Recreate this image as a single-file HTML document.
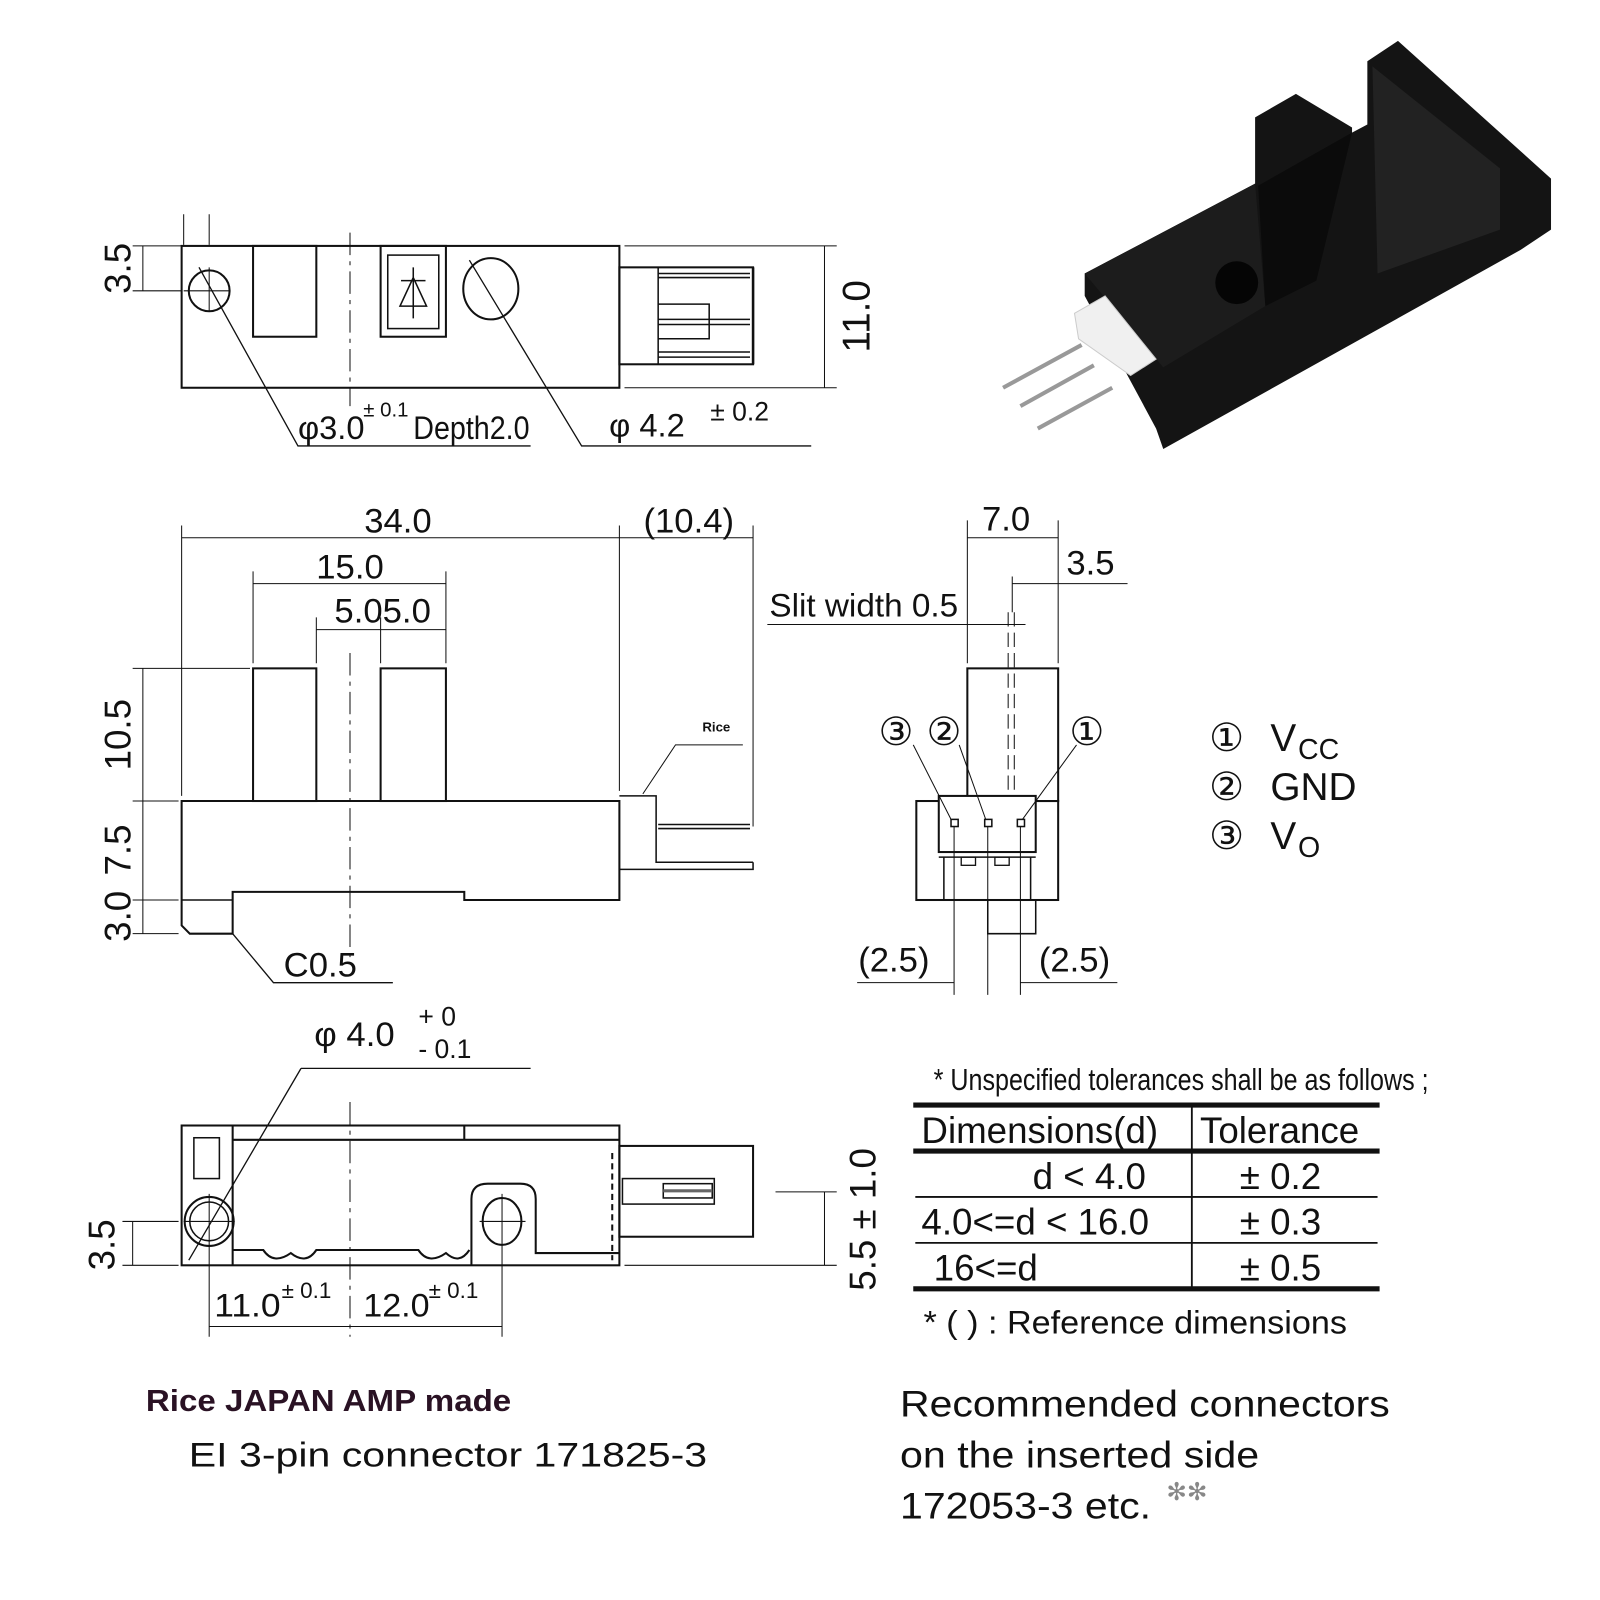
<!DOCTYPE html>
<html><head><meta charset="utf-8"><style>
html,body{margin:0;padding:0;background:#fff}
svg{display:block}
text{font-family:"Liberation Sans",sans-serif;fill:#111}
</style></head><body>
<svg width="1600" height="1600" viewBox="0 0 1568 1568" xmlns="http://www.w3.org/2000/svg">
<g fill="none" stroke="#111" stroke-width="2">
<!-- TOP VIEW -->
<rect x="178" y="241" width="429" height="139"/>
<rect x="248" y="241" width="62" height="89"/>
<rect x="373" y="241" width="64" height="89"/>
<rect x="380" y="250" width="50" height="72" stroke-width="1.5"/>
<path d="M393 275 H417 M405 262 V312 M392 300 L405 272 L418 300 Z M393 300 H417" stroke-width="1.5"/>
<circle cx="205" cy="285" r="20"/>
<ellipse cx="481" cy="283" rx="27" ry="30"/>
<path d="M180 285 H225 M205 262 V305" stroke-width="1"/>
<path d="M343 228 V398" stroke-width="1" stroke-dasharray="22 6 4 6"/>
<path d="M180 210 V240 M205 210 V240" stroke-width="1"/>
<rect x="607" y="262" width="131" height="95"/>
<path d="M645 262 V357" stroke-width="1.5"/>
<path d="M645 268 H735 M645 272 H735 M645 313 H735 M645 318 H735 M645 345 H735 M645 350 H735" stroke-width="1.5"/>
<path d="M645 298 H695 V332 H645" stroke-width="1.5"/>
<path d="M738 262 V357" stroke-width="2.5"/>
<path d="M612 241 H820 M612 380 H820 M808 241 V380" stroke-width="1"/>
<path d="M140 241 V285 M130 241 H178 M130 285 H178" stroke-width="1"/>
<path d="M195 262 L292 437 H520" stroke-width="1.3"/>
<path d="M460 255 L570 437 H795" stroke-width="1.3"/>
<!-- FRONT VIEW -->
<path d="M178 785 H607 V882 H455 V874 H228 V915 H186 L178 907 Z"/>
<path d="M178 882 H228" stroke-width="1.5"/>
<rect x="248" y="655" width="62" height="130"/>
<rect x="373" y="655" width="64" height="130"/>
<path d="M343 640 V940" stroke-width="1" stroke-dasharray="22 6 4 6"/>
<path d="M607 780 H643 V845 H738 M607 852 H738 V845" stroke-width="1.5"/>
<path d="M645 808 H735 M645 812 H735" stroke-width="1.5"/>
<path d="M178 515 V780 M607 515 V775 M738 515 V810 M248 560 V650 M437 560 V650 M310 605 V650 M373 605 V650" stroke-width="1"/>
<path d="M178 527 H738 M248 572 H437 M310 617 H437" stroke-width="1"/>
<path d="M130 655 H245 M130 785 H175 M130 882 H175 M130 915 H175 M140 655 V915" stroke-width="1"/>
<path d="M630 778 L662 730 H728" stroke-width="1"/>
<path d="M228 915 L268 963 H385" stroke-width="1.3"/>
<!-- SIDE VIEW -->
<rect x="948" y="655" width="89" height="130"/>
<rect x="898" y="785" width="139" height="97"/>
<rect x="920" y="780" width="95" height="55" fill="#fff"/>
<path d="M920 840 H1015 M925 840 V882 M1010 840 V882" stroke-width="1.5"/>
<rect x="942" y="840" width="14" height="8" stroke-width="1.3"/>
<rect x="975" y="840" width="14" height="8" stroke-width="1.3"/>
<path d="M968 882 V915 H1015 V882 M972 915 H1011" stroke-width="1.5"/>
<rect x="932" y="803" width="7" height="7" stroke-width="1.5"/>
<rect x="965" y="803" width="7" height="7" stroke-width="1.5"/>
<rect x="997" y="803" width="7" height="7" stroke-width="1.5"/>
<path d="M935 810 V975 M968 810 V975 M1000 810 V975" stroke-width="1"/>
<path d="M988 600 V780 M994 600 V780" stroke-width="1" stroke-dasharray="14 6"/>
<path d="M948 510 V650 M1037 510 V650 M948 527 H1037 M992 565 V600 M992 572 H1105 M752 612 H1005" stroke-width="1"/>
<path d="M895 730 L932 803 M940 730 L966 803 M1055 730 L1002 803" stroke-width="1"/>
<path d="M840 963 H935 M1000 963 H1095" stroke-width="1"/>
<!-- BOTTOM VIEW -->
<rect x="178" y="1103" width="429" height="137"/>
<path d="M228 1103 V1240 M228 1117 H607 M455 1103 V1117 M228 1225 H258 Q268 1240 285 1228 Q300 1240 310 1225 H410 Q420 1240 437 1228 Q450 1240 460 1225 M462 1240 V1175 Q462 1160 478 1160 H510 Q525 1160 525 1175 V1228 H607"/>
<rect x="190" y="1115" width="25" height="40" stroke-width="1.5"/>
<circle cx="205" cy="1197" r="24"/>
<circle cx="205" cy="1197" r="19" stroke-width="1.5"/>
<ellipse cx="492" cy="1197" rx="19" ry="23"/>
<path d="M343 1080 V1310" stroke-width="1" stroke-dasharray="22 6 4 6"/>
<path d="M205 1170 V1310 M492 1170 V1310 M180 1197 H230 M470 1197 H515" stroke-width="1"/>
<rect x="607" y="1123" width="131" height="89"/>
<path d="M600 1130 V1235" stroke-width="2" stroke-dasharray="6 4"/>
<rect x="610" y="1155" width="90" height="25" stroke-width="1.5"/>
<rect x="650" y="1160" width="48" height="14" stroke-width="1.5"/>
<path d="M650 1167 H698" stroke-width="3" stroke="#666"/>
<path d="M295 1047 L185 1235 M295 1047 H520" stroke-width="1.3"/>
<path d="M120 1197 H175 M120 1240 H175 M130 1197 V1240 M612 1240 H820 M760 1168 H820 M808 1168 V1240" stroke-width="1"/>
<path d="M205 1300 H492" stroke-width="1"/>
<!-- TABLE -->
<path d="M895 1083 H1352 M895 1128 H1352 M895 1263 H1352" stroke-width="5"/>
<path d="M897 1173 H1350 M897 1218 H1350 M1168 1083 V1263" stroke-width="1.8"/>
</g>
<!-- photo -->
<g>
<polygon points="1063,268 1230,180 1230,115 1270,92 1325,125 1325,130 1340,122 1340,60 1370,40 1520,175 1520,225 1490,245 1140,440 1133,420 1063,290" fill="#141414"/>
<polygon points="1233,182 1240,300 1290,275 1325,130" fill="#0b0b0b"/>
<polygon points="1345,65 1470,165 1470,225 1350,268" fill="#222"/>
<polygon points="1063,268 1230,180 1240,300 1140,360" fill="#1c1c1c"/>
<circle cx="1212" cy="277" r="21" fill="#050505"/>
<polygon points="1053,307 1083,290 1133,352 1108,368 1057,332" fill="#f0f0f0" stroke="#ccc"/>
<path d="M983 380 L1060 338 M1000 398 L1072 358 M1017 420 L1090 380" stroke="#999" stroke-width="4"/>
</g>
<!-- TEXT -->
<text transform="translate(128,263) rotate(-90)" font-size="36" text-anchor="middle">3.5</text>
<text transform="translate(852,310) rotate(-90)" font-size="38" text-anchor="middle">11.0</text>
<text x="292" y="430" font-size="32">φ3.0</text>
<text x="356" y="408" font-size="20">± 0.1</text>
<text x="405" y="430" font-size="32" textLength="114" lengthAdjust="spacingAndGlyphs">Depth2.0</text>
<text x="597" y="428" font-size="32">φ  4.2</text>
<text x="696" y="412" font-size="26">± 0.2</text>
<text x="390" y="522" font-size="34" text-anchor="middle">34.0</text>
<text x="675" y="522" font-size="34" text-anchor="middle">(10.4)</text>
<text x="343" y="567" font-size="34" text-anchor="middle">15.0</text>
<text x="375" y="610" font-size="34" text-anchor="middle">5.05.0</text>
<text transform="translate(128,720) rotate(-90)" font-size="36" text-anchor="middle">10.5</text>
<text transform="translate(128,833) rotate(-90)" font-size="36" text-anchor="middle">7.5</text>
<text transform="translate(128,898) rotate(-90)" font-size="36" text-anchor="middle">3.0</text>
<text x="702" y="717" font-size="13" text-anchor="middle" font-weight="bold">Rice</text>
<text x="278" y="957" font-size="34">C0.5</text>
<text x="986" y="520" font-size="34" text-anchor="middle">7.0</text>
<text x="1045" y="563" font-size="34">3.5</text>
<text x="754" y="604" font-size="32" textLength="185" lengthAdjust="spacingAndGlyphs">Slit width 0.5</text>
<text x="878" y="730" font-size="38" text-anchor="middle">③</text>
<text x="925" y="730" font-size="38" text-anchor="middle">②</text>
<text x="1065" y="730" font-size="38" text-anchor="middle">①</text>
<text x="1185" y="736" font-size="38">①</text><text x="1245" y="736" font-size="38">V</text><text x="1272" y="744" font-size="28">CC</text>
<text x="1185" y="784" font-size="38">②</text><text x="1245" y="784" font-size="38">GND</text>
<text x="1185" y="832" font-size="38">③</text><text x="1245" y="832" font-size="38">V</text><text x="1272" y="840" font-size="28">O</text>
<text x="876" y="952" font-size="34" text-anchor="middle">(2.5)</text>
<text x="1053" y="952" font-size="34" text-anchor="middle">(2.5)</text>
<text x="308" y="1025" font-size="34">φ  4.0</text>
<text x="410" y="1005" font-size="26">+  0</text>
<text x="410" y="1037" font-size="26">-  0.1</text>
<text transform="translate(112,1220) rotate(-90)" font-size="36" text-anchor="middle">3.5</text>
<text transform="translate(858,1195) rotate(-90)" font-size="36" text-anchor="middle">5.5 ± 1.0</text>
<text x="210" y="1290" font-size="32" textLength="65" lengthAdjust="spacingAndGlyphs">11.0</text>
<text x="276" y="1272" font-size="22">± 0.1</text>
<text x="356" y="1290" font-size="32" textLength="65" lengthAdjust="spacingAndGlyphs">12.0</text>
<text x="420" y="1272" font-size="22">± 0.1</text>
<text x="915" y="1068" font-size="30" textLength="485" lengthAdjust="spacingAndGlyphs">* Unspecified tolerances shall be as follows ;</text>
<text x="903" y="1120" font-size="36">Dimensions(d)</text>
<text x="1176" y="1120" font-size="36">Tolerance</text>
<text x="1012" y="1165" font-size="36">d &lt; 4.0</text>
<text x="1215" y="1165" font-size="36">± 0.2</text>
<text x="903" y="1210" font-size="36">4.0&lt;=d &lt; 16.0</text>
<text x="1215" y="1210" font-size="36">± 0.3</text>
<text x="915" y="1255" font-size="36">16&lt;=d</text>
<text x="1215" y="1255" font-size="36">± 0.5</text>
<text x="905" y="1307" font-size="32" textLength="415" lengthAdjust="spacingAndGlyphs">* ( ) :  Reference dimensions</text>
<text x="143" y="1383" font-size="30" font-weight="bold" style="fill:#2a1224" textLength="358" lengthAdjust="spacingAndGlyphs">Rice JAPAN AMP made</text>
<text x="185" y="1437" font-size="34" textLength="508" lengthAdjust="spacingAndGlyphs">EI 3-pin connector 171825-3</text>
<text x="882" y="1388" font-size="36" textLength="480" lengthAdjust="spacingAndGlyphs">Recommended connectors</text>
<text x="882" y="1438" font-size="36" textLength="352" lengthAdjust="spacingAndGlyphs">on the inserted side</text>
<text x="882" y="1488" font-size="36" textLength="246" lengthAdjust="spacingAndGlyphs">172053-3 etc.</text>
<text x="1143" y="1470" font-size="24" style="fill:#888">✻✻</text>
</svg>
</body></html>
